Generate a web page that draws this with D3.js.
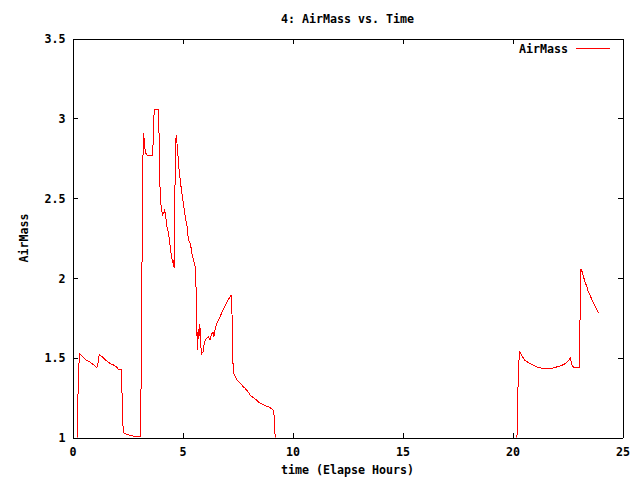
<!DOCTYPE html>
<html>
<head>
<meta charset="utf-8">
<script src="https://cdn.jsdelivr.net/npm/d3@7"></script>
<style>
    body { margin: 0; background: #fff; }
    text { font-family: "DejaVu Sans Mono", "Liberation Mono", monospace; font-size: 11.65px; font-weight: bold; fill: #000; }
</style>
</head>
<body>
<svg id="chart" width="640" height="480"></svg>
<script>
// elapsed hours / airmass, null = target below horizon
const hours = [
    0.21, 0.23, 0.27, 0.32, 0.47, 0.62, 0.77, 0.92, 1.10, 1.15, 1.22, 1.40, 1.55, 1.70, 1.85, 2.01,
    2.08, 2.21, 2.24, 2.28, 2.31, 2.39, 2.54, 2.69, 3.07, 3.14, 3.17, 3.22, 3.26, 3.29, 3.34, 3.40,
    3.63, 3.66, 3.69, 3.72, 3.90, 3.93, 3.96, 3.99, 4.03, 4.09, 4.14, 4.18, 4.23, 4.29, 4.35, 4.40,
    4.46, 4.50, 4.55, 4.58, 4.62, 4.63, 4.67, 4.71, 4.74, 4.77, 4.82, 4.85, 4.89, 4.94, 5.00, 5.05,
    5.09, 5.15, 5.20, 5.23, 5.27, 5.30, 5.35, 5.39, 5.44, 5.50, 5.54, 5.57, 5.62, 5.65, 5.68, 5.71,
    5.74, 5.79, 5.83, 5.88, 5.94, 5.98, 6.04, 6.12, 6.19, 6.25, 6.31, 6.36, 6.40, 6.43, 6.48, 6.54,
    6.60, 6.68, 6.78, 6.86, 6.96, 7.05, 7.13, 7.21, 7.24, 7.25, 7.28, 7.31, 7.39, 7.51, 7.61, 7.73,
    7.86, 7.99, 8.10, 8.22, 8.37, 8.49, 8.64, 8.79, 8.97, 9.12, 9.17, 9.21, 9.22,
    14.5,
    20.20, 20.23, 20.26, 20.32, 20.43, 20.57, 20.72, 20.88, 21.03, 21.18, 21.41, 21.78, 22.01, 22.24,
    22.39, 22.54, 22.63, 22.69, 22.73, 22.84, 23.04, 23.07, 23.11, 23.16, 23.22, 23.29, 23.37, 23.44,
    23.52, 23.60, 23.67, 23.75, 23.82, 23.91,
];
const airMass = [
    0.99, 1.135, 1.40, 1.525, 1.505, 1.485, 1.475, 1.46, 1.438, 1.46, 1.521, 1.50, 1.48, 1.465, 1.455, 1.442,
    1.427, 1.427, 1.333, 1.125, 1.031, 1.025, 1.017, 1.01, 1.006, 1.479, 2.427, 2.906, 2.869, 2.81, 2.78, 2.765,
    2.765, 2.833, 2.983, 3.056, 3.056, 2.927, 2.677, 2.50, 2.448, 2.396, 2.406, 2.423, 2.396, 2.323, 2.292, 2.24,
    2.177, 2.135, 2.094, 2.11, 2.063, 2.271, 2.688, 2.896, 2.86, 2.81, 2.719, 2.667, 2.625, 2.563, 2.506, 2.458,
    2.417, 2.36, 2.333, 2.281, 2.24, 2.229, 2.215, 2.188, 2.146, 2.115, 2.088, 2.073, 1.927, 1.677, 1.548, 1.677,
    1.615, 1.708, 1.573, 1.527, 1.538, 1.583, 1.61, 1.625, 1.631, 1.61, 1.646, 1.656, 1.656, 1.631, 1.677, 1.708,
    1.729, 1.745, 1.781, 1.802, 1.829, 1.858, 1.875, 1.89, 1.875, 1.771, 1.531, 1.406, 1.385, 1.354, 1.344, 1.323,
    1.306, 1.285, 1.26, 1.25, 1.235, 1.219, 1.208, 1.198, 1.188, 1.173, 1.135, 1.004, 0.99,
    null,
    0.99, 1.135, 1.406, 1.538, 1.51, 1.483, 1.469, 1.458, 1.448, 1.438, 1.433, 1.433, 1.442, 1.452,
    1.462, 1.483, 1.496, 1.458, 1.444, 1.438, 1.44, 1.75, 2.056, 2.04, 2.01, 1.979, 1.948, 1.917,
    1.896, 1.865, 1.844, 1.823, 1.802, 1.78,
];
const xTicks = [0, 5, 10, 15, 20, 25];
const yTicks = [1, 1.5, 2, 2.5, 3, 3.5];

const chartTitle = "4: AirMass vs. Time";
const xTitle = "time (Elapse Hours)";
const yTitle = "AirMass";
const seriesName = "AirMass";

const frame = { left: 72.5, right: 622.5, top: 38.5, bottom: 437.5 };
const ticLen = 5;

const svg = d3.select("#chart");

const x = d3.scaleLinear().domain([0, 25]).range([frame.left, frame.right]);
const y = d3.scaleLinear().domain([1, 3.5]).range([frame.bottom, frame.top]);

const points = hours.map((h, i) => [h, airMass[i]]);

svg.append("clipPath")
    .attr("id", "plotClip")
    .append("rect")
    .attr("x", frame.left)
    .attr("y", frame.top)
    .attr("width", frame.right - frame.left)
    .attr("height", frame.bottom - frame.top);

// axes: gnuplot style, ticks pointing inward and mirrored on all sides
const bottomAxis = d3.axisBottom(x).tickValues(xTicks).tickSizeInner(-ticLen).tickSizeOuter(0).tickFormat(d3.format("d"));
const topAxis = d3.axisTop(x).tickValues(xTicks).tickSizeInner(-ticLen).tickSizeOuter(0).tickFormat("");
const leftAxis = d3.axisLeft(y).tickValues(yTicks).tickSizeInner(-ticLen).tickSizeOuter(0).tickFormat((d) => d);
const rightAxis = d3.axisRight(y).tickValues(yTicks).tickSizeInner(-ticLen).tickSizeOuter(0).tickFormat("");

const styleAxis = (g) => {
    g.attr("font-size", null).attr("font-family", null);
    g.select(".domain").attr("stroke", "#000").attr("shape-rendering", "crispEdges");
    g.selectAll(".tick line").attr("stroke", "#000").attr("shape-rendering", "crispEdges");
};

svg.append("g")
    .attr("transform", `translate(0,${frame.bottom})`)
    .call(bottomAxis)
    .call(styleAxis)
    .call((g) => g.selectAll(".tick text").attr("y", 15).attr("dy", "0.32em"));

svg.append("g")
    .attr("transform", `translate(0,${frame.top})`)
    .call(topAxis)
    .call(styleAxis);

svg.append("g")
    .attr("transform", `translate(${frame.left},0)`)
    .call(leftAxis)
    .call(styleAxis)
    .call((g) => g.selectAll(".tick text").attr("x", -7).attr("dy", "0.36em"));

svg.append("g")
    .attr("transform", `translate(${frame.right},0)`)
    .call(rightAxis)
    .call(styleAxis);

// the series
const line = d3.line()
    .defined((d) => d[1] !== null)
    .x((d) => x(d[0]))
    .y((d) => y(d[1]));

svg.append("path")
    .datum(points)
    .attr("d", line)
    .attr("clip-path", "url(#plotClip)")
    .attr("fill", "none")
    .attr("stroke", "#ff0000")
    .attr("stroke-width", 1)
    .attr("shape-rendering", "crispEdges");

// key, top right
svg.append("text")
    .attr("x", 568)
    .attr("y", 48.5)
    .attr("dy", "0.36em")
    .attr("text-anchor", "end")
    .text(seriesName);

svg.append("line")
    .attr("x1", 576)
    .attr("x2", 610)
    .attr("y1", 48.5)
    .attr("y2", 48.5)
    .attr("stroke", "#ff0000")
    .attr("shape-rendering", "crispEdges");

// titles
svg.append("text")
    .attr("x", (frame.left + frame.right) / 2)
    .attr("y", 18.5)
    .attr("dy", "0.36em")
    .attr("text-anchor", "middle")
    .text(chartTitle);

svg.append("text")
    .attr("x", (frame.left + frame.right) / 2)
    .attr("y", 470)
    .attr("dy", "0.36em")
    .attr("text-anchor", "middle")
    .text(xTitle);

svg.append("text")
    .attr("transform", `translate(24,${(frame.top + frame.bottom) / 2}) rotate(-90)`)
    .attr("dy", "0.36em")
    .attr("text-anchor", "middle")
    .text(yTitle);
</script>
</body>
</html>
